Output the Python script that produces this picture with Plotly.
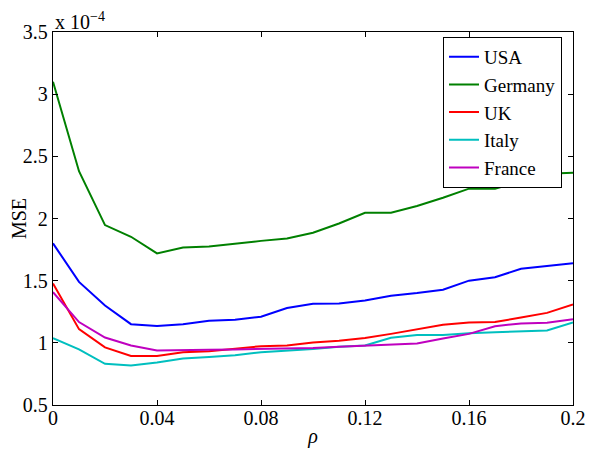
import plotly.graph_objects as go

# rho values
rho = [0.00, 0.01, 0.02, 0.03, 0.04, 0.05, 0.06, 0.07, 0.08, 0.09, 0.10,
       0.11, 0.12, 0.13, 0.14, 0.15, 0.16, 0.17, 0.18, 0.19, 0.20]

# MSE values in units of 1e-4
usa = [1.80, 1.49, 1.30, 1.15, 1.135, 1.15, 1.177, 1.185, 1.21, 1.28, 1.315,
       1.317, 1.341, 1.378, 1.40, 1.427, 1.50, 1.528, 1.595, 1.615, 1.64]
germany = [3.10, 2.38, 1.947, 1.853, 1.719, 1.767, 1.775, 1.80, 1.82, 1.84, 1.885,
           1.96, 2.046, 2.046, 2.10, 2.167, 2.24, 2.24, 2.30, 2.36, 2.368]
uk = [1.478, 1.11, 0.963, 0.895, 0.895, 0.925, 0.933, 0.952, 0.973, 0.979, 1.003,
      1.016, 1.038, 1.072, 1.11, 1.145, 1.164, 1.167, 1.204, 1.241, 1.309]
italy = [1.038, 0.947, 0.831, 0.818, 0.842, 0.874, 0.887, 0.901, 0.925, 0.936, 0.95,
         0.968, 0.979, 1.04, 1.062, 1.062, 1.078, 1.086, 1.094, 1.10, 1.164]
france = [1.408, 1.167, 1.043, 0.979, 0.939, 0.939, 0.944, 0.947, 0.95, 0.955, 0.958,
          0.968, 0.976, 0.987, 0.995, 1.035, 1.072, 1.134, 1.156, 1.161, 1.19]

names = ["USA", "Germany", "UK", "Italy", "France"]
colors = ["#0000ff", "#008000", "#ff0000", "#00bfbf", "#bf00bf"]
series = [usa, germany, uk, italy, france]

x_ticks = [0, 0.04, 0.08, 0.12, 0.16, 0.2]
x_ticktext = ["0", "0.04", "0.08", "0.12", "0.16", "0.2"]
y_ticks = [0.5, 1, 1.5, 2, 2.5, 3, 3.5]
y_ticktext = ["0.5", "1", "1.5", "2", "2.5", "3", "3.5"]

FONT = "Liberation Serif, Times New Roman, serif"

fig = go.Figure()
for name, col, vals in zip(names, colors, series):
    fig.add_trace(go.Scatter(x=rho, y=vals, mode="lines", name=name,
                             line=dict(color=col, width=2)))

axis_common = dict(showgrid=False, zeroline=False, showline=True, linecolor="black",
                   linewidth=1.3, mirror="ticks", ticks="inside", ticklen=5,
                   tickcolor="black", tickwidth=1, automargin=False,
                   tickfont=dict(family=FONT, size=20, color="black"))

fig.update_xaxes(range=[0, 0.2], tickvals=x_ticks, ticktext=x_ticktext,
                 ticklabelstandoff=-5,
                 title=dict(text="<i>ρ</i>", font=dict(family=FONT, size=20, color="black"),
                            standoff=0),
                 **axis_common)
fig.update_yaxes(range=[0.5, 3.5], tickvals=y_ticks, ticktext=y_ticktext,
                 title=dict(text="MSE", font=dict(family=FONT, size=20, color="black"),
                            standoff=6),
                 **axis_common)

fig.add_annotation(text="x 10<sup>−4</sup>", xref="paper", yref="paper",
                   x=0.0, y=1.0, xanchor="left", yanchor="bottom", showarrow=False,
                   font=dict(family=FONT, size=20, color="black"), yshift=-3)

# The page body has an 8px margin, so the figure is 8px smaller than the window.
fig.update_layout(
    width=592, height=446,
    margin=dict(l=45, r=27, t=24, b=49),
    plot_bgcolor="white", paper_bgcolor="white",
    font=dict(family=FONT, size=20, color="black"),
    legend=dict(x=0.75, y=0.987, xanchor="left", yanchor="top",
                bordercolor="black", borderwidth=1, bgcolor="white",
                font=dict(family=FONT, size=19, color="black"),
                tracegroupgap=0),
    showlegend=True,
)

fig.write_html("out.html")
